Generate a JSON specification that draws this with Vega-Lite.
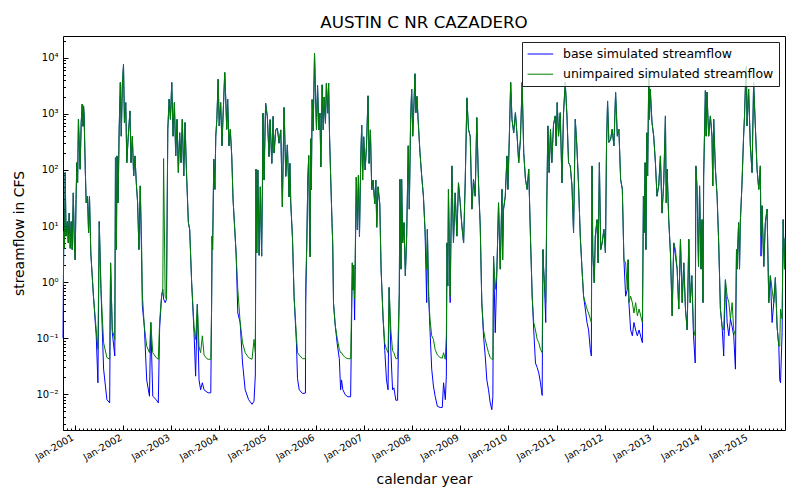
{
  "$schema": "https://vega.github.io/schema/vega-lite/v6.json",
  "width": 722,
  "height": 394,
  "autosize": {"type": "none"},
  "padding": {"left": 63, "top": 36, "right": 15, "bottom": 70},
  "background": "white",
  "title": {"text": "AUSTIN C NR CAZADERO", "fontSize": 16.7, "font": "DejaVu Sans", "fontWeight": "normal", "color": "black", "anchor": "middle", "offset": 4},
  "config": {
    "view": {"stroke": "black", "strokeWidth": 1},
    "axis": {"grid": false, "domain": false, "labelColor": "black", "tickColor": "black", "titleColor": "black", "labelFont": "DejaVu Sans", "titleFont": "DejaVu Sans", "titleFontWeight": "normal"},
    "legend": {"labelFont": "DejaVu Sans"}
  },
  "data": {"values": [
    {"date":"2000-10-01","base":0.1,"unimpaired":0.9},
    {"date":"2000-10-04","base":0.8,"unimpaired":0.9},
    {"date":"2000-10-07","base":8,"unimpaired":8},
    {"date":"2000-10-12","base":4,"unimpaired":4},
    {"date":"2000-10-18","base":90,"unimpaired":90},
    {"date":"2000-10-24","base":6.6,"unimpaired":6.6},
    {"date":"2000-11-03","base":12,"unimpaired":12},
    {"date":"2000-11-10","base":5,"unimpaired":5},
    {"date":"2000-11-17","base":17,"unimpaired":17},
    {"date":"2000-11-25","base":4,"unimpaired":4},
    {"date":"2000-12-02","base":12,"unimpaired":12},
    {"date":"2000-12-10","base":3.8,"unimpaired":3.8},
    {"date":"2000-12-18","base":39,"unimpaired":39},
    {"date":"2000-12-26","base":5,"unimpaired":5},
    {"date":"2001-01-01","base":2.5,"unimpaired":2.5},
    {"date":"2001-01-08","base":30,"unimpaired":30},
    {"date":"2001-01-14","base":135,"unimpaired":135},
    {"date":"2001-01-20","base":60,"unimpaired":60},
    {"date":"2001-01-26","base":800,"unimpaired":800},
    {"date":"2001-02-02","base":250,"unimpaired":250},
    {"date":"2001-02-08","base":103,"unimpaired":103},
    {"date":"2001-02-16","base":700,"unimpaired":700},
    {"date":"2001-02-24","base":1500,"unimpaired":1500},
    {"date":"2001-03-02","base":600,"unimpaired":600},
    {"date":"2001-03-06","base":1390,"unimpaired":1390},
    {"date":"2001-03-10","base":1000,"unimpaired":1000},
    {"date":"2001-03-19","base":103,"unimpaired":103},
    {"date":"2001-03-26","base":26,"unimpaired":26},
    {"date":"2001-04-05","base":34,"unimpaired":34},
    {"date":"2001-04-13","base":7.6,"unimpaired":7.6},
    {"date":"2001-04-20","base":34,"unimpaired":34},
    {"date":"2001-04-30","base":3.3,"unimpaired":3.3},
    {"date":"2001-05-20","base":0.56,"unimpaired":0.56},
    {"date":"2001-06-10","base":0.11,"unimpaired":0.14},
    {"date":"2001-06-23","base":0.016,"unimpaired":0.063},
    {"date":"2001-07-03","base":12,"unimpaired":12},
    {"date":"2001-07-16","base":0.74,"unimpaired":0.74},
    {"date":"2001-08-05","base":0.028,"unimpaired":0.083},
    {"date":"2001-08-30","base":0.008,"unimpaired":0.045},
    {"date":"2001-09-20","base":0.007,"unimpaired":0.042},
    {"date":"2001-09-27","base":2.2,"unimpaired":2.2},
    {"date":"2001-10-10","base":0.125,"unimpaired":0.14},
    {"date":"2001-10-29","base":0.048,"unimpaired":0.095},
    {"date":"2001-11-03","base":165,"unimpaired":165},
    {"date":"2001-11-10","base":3.8,"unimpaired":3.8},
    {"date":"2001-11-15","base":178,"unimpaired":178},
    {"date":"2001-11-23","base":26,"unimpaired":26},
    {"date":"2001-12-01","base":530,"unimpaired":530},
    {"date":"2001-12-10","base":3630,"unimpaired":3630},
    {"date":"2001-12-17","base":400,"unimpaired":400},
    {"date":"2001-12-25","base":3200,"unimpaired":3200},
    {"date":"2002-01-03","base":7700,"unimpaired":7700},
    {"date":"2002-01-10","base":700,"unimpaired":700},
    {"date":"2002-01-20","base":1590,"unimpaired":1590},
    {"date":"2002-01-28","base":135,"unimpaired":135},
    {"date":"2002-02-08","base":400,"unimpaired":400},
    {"date":"2002-02-21","base":1130,"unimpaired":1130},
    {"date":"2002-03-01","base":135,"unimpaired":135},
    {"date":"2002-03-11","base":400,"unimpaired":400},
    {"date":"2002-03-21","base":78,"unimpaired":78},
    {"date":"2002-03-31","base":178,"unimpaired":178},
    {"date":"2002-04-10","base":59,"unimpaired":59},
    {"date":"2002-04-20","base":26,"unimpaired":26},
    {"date":"2002-04-30","base":3.8,"unimpaired":3.8},
    {"date":"2002-05-10","base":52,"unimpaired":52},
    {"date":"2002-05-20","base":2.9,"unimpaired":5},
    {"date":"2002-05-26","base":0.38,"unimpaired":0.6},
    {"date":"2002-06-10","base":0.16,"unimpaired":0.16},
    {"date":"2002-06-28","base":0.018,"unimpaired":0.072},
    {"date":"2002-07-19","base":0.0092,"unimpaired":0.055},
    {"date":"2002-07-29","base":0.19,"unimpaired":0.19},
    {"date":"2002-08-13","base":0.0092,"unimpaired":0.055},
    {"date":"2002-09-08","base":0.008,"unimpaired":0.045},
    {"date":"2002-09-24","base":0.007,"unimpaired":0.042},
    {"date":"2002-10-04","base":0.15,"unimpaired":0.2},
    {"date":"2002-10-19","base":0.56,"unimpaired":0.56},
    {"date":"2002-10-28","base":0.74,"unimpaired":0.74},
    {"date":"2002-11-03","base":0.5,"unimpaired":160},
    {"date":"2002-11-15","base":0.43,"unimpaired":0.56},
    {"date":"2002-11-25","base":0.49,"unimpaired":0.49},
    {"date":"2002-12-05","base":530,"unimpaired":530},
    {"date":"2002-12-15","base":1830,"unimpaired":1830},
    {"date":"2002-12-25","base":800,"unimpaired":800},
    {"date":"2003-01-04","base":3630,"unimpaired":3630},
    {"date":"2003-01-14","base":400,"unimpaired":400},
    {"date":"2003-01-24","base":1590,"unimpaired":1590},
    {"date":"2003-02-03","base":178,"unimpaired":178},
    {"date":"2003-02-13","base":800,"unimpaired":800},
    {"date":"2003-02-23","base":90,"unimpaired":90},
    {"date":"2003-03-05","base":460,"unimpaired":460},
    {"date":"2003-03-15","base":135,"unimpaired":135},
    {"date":"2003-03-25","base":800,"unimpaired":800},
    {"date":"2003-04-05","base":78,"unimpaired":78},
    {"date":"2003-04-15","base":700,"unimpaired":700},
    {"date":"2003-04-25","base":103,"unimpaired":103},
    {"date":"2003-05-10","base":11.5,"unimpaired":11.5},
    {"date":"2003-05-20","base":8.7,"unimpaired":8.7},
    {"date":"2003-06-04","base":0.97,"unimpaired":0.97},
    {"date":"2003-06-22","base":0.125,"unimpaired":0.16},
    {"date":"2003-07-04","base":0.021,"unimpaired":0.095},
    {"date":"2003-07-17","base":0.4,"unimpaired":0.4},
    {"date":"2003-07-30","base":0.018,"unimpaired":0.07},
    {"date":"2003-08-11","base":0.012,"unimpaired":0.055},
    {"date":"2003-08-24","base":0.016,"unimpaired":0.11},
    {"date":"2003-09-06","base":0.012,"unimpaired":0.05},
    {"date":"2003-09-27","base":0.011,"unimpaired":0.043},
    {"date":"2003-10-07","base":0.0106,"unimpaired":0.042},
    {"date":"2003-10-27","base":0.0106,"unimpaired":0.042},
    {"date":"2003-11-02","base":0.33,"unimpaired":0.33},
    {"date":"2003-11-06","base":6.6,"unimpaired":6.6},
    {"date":"2003-11-10","base":3.8,"unimpaired":3.8},
    {"date":"2003-11-19","base":155,"unimpaired":155},
    {"date":"2003-11-27","base":45,"unimpaired":45},
    {"date":"2003-12-04","base":400,"unimpaired":400},
    {"date":"2003-12-12","base":800,"unimpaired":800},
    {"date":"2003-12-22","base":4160,"unimpaired":4160},
    {"date":"2003-12-30","base":610,"unimpaired":610},
    {"date":"2004-01-10","base":1590,"unimpaired":1590},
    {"date":"2004-01-20","base":270,"unimpaired":270},
    {"date":"2004-01-30","base":1200,"unimpaired":1200},
    {"date":"2004-02-10","base":5470,"unimpaired":5470},
    {"date":"2004-02-17","base":2050,"unimpaired":2050},
    {"date":"2004-02-25","base":530,"unimpaired":530},
    {"date":"2004-03-03","base":1830,"unimpaired":1830},
    {"date":"2004-03-13","base":270,"unimpaired":270},
    {"date":"2004-03-23","base":530,"unimpaired":530},
    {"date":"2004-04-03","base":178,"unimpaired":178},
    {"date":"2004-04-13","base":30,"unimpaired":30},
    {"date":"2004-04-23","base":11.5,"unimpaired":11.5},
    {"date":"2004-05-06","base":3.3,"unimpaired":3.3},
    {"date":"2004-05-19","base":0.28,"unimpaired":0.74},
    {"date":"2004-06-06","base":0.19,"unimpaired":0.19},
    {"date":"2004-06-24","base":0.036,"unimpaired":0.083},
    {"date":"2004-07-14","base":0.012,"unimpaired":0.055},
    {"date":"2004-08-09","base":0.008,"unimpaired":0.045},
    {"date":"2004-09-04","base":0.0066,"unimpaired":0.042},
    {"date":"2004-09-19","base":0.0075,"unimpaired":0.095},
    {"date":"2004-09-29","base":0.022,"unimpaired":0.055},
    {"date":"2004-10-04","base":103,"unimpaired":103},
    {"date":"2004-10-10","base":3.3,"unimpaired":3.3},
    {"date":"2004-10-18","base":100,"unimpaired":100},
    {"date":"2004-10-28","base":3,"unimpaired":3},
    {"date":"2004-11-06","base":50,"unimpaired":50},
    {"date":"2004-11-16","base":2.9,"unimpaired":2.9},
    {"date":"2004-11-22","base":60,"unimpaired":60},
    {"date":"2004-11-26","base":1030,"unimpaired":1030},
    {"date":"2004-12-04","base":66,"unimpaired":66},
    {"date":"2004-12-16","base":1550,"unimpaired":1550},
    {"date":"2004-12-29","base":900,"unimpaired":900},
    {"date":"2005-01-11","base":173,"unimpaired":173},
    {"date":"2005-01-19","base":790,"unimpaired":790},
    {"date":"2005-02-01","base":131,"unimpaired":131},
    {"date":"2005-02-11","base":900,"unimpaired":900},
    {"date":"2005-02-18","base":200,"unimpaired":200},
    {"date":"2005-03-03","base":518,"unimpaired":518},
    {"date":"2005-03-15","base":560,"unimpaired":560},
    {"date":"2005-03-28","base":300,"unimpaired":300},
    {"date":"2005-04-10","base":518,"unimpaired":518},
    {"date":"2005-04-22","base":22,"unimpaired":22},
    {"date":"2005-05-05","base":1300,"unimpaired":1300},
    {"date":"2005-05-18","base":77,"unimpaired":77},
    {"date":"2005-05-30","base":280,"unimpaired":280},
    {"date":"2005-06-12","base":33,"unimpaired":33},
    {"date":"2005-06-18","base":131,"unimpaired":131},
    {"date":"2005-06-25","base":25,"unimpaired":25},
    {"date":"2005-07-08","base":6,"unimpaired":6},
    {"date":"2005-07-20","base":0.55,"unimpaired":0.55},
    {"date":"2005-08-07","base":0.08,"unimpaired":0.106},
    {"date":"2005-08-15","base":0.019,"unimpaired":0.055},
    {"date":"2005-08-28","base":0.012,"unimpaired":0.05},
    {"date":"2005-09-22","base":0.0103,"unimpaired":0.043},
    {"date":"2005-10-14","base":0.0105,"unimpaired":0.043},
    {"date":"2005-10-16","base":0.4,"unimpaired":0.9},
    {"date":"2005-10-24","base":4.3,"unimpaired":4.3},
    {"date":"2005-11-01","base":66,"unimpaired":66},
    {"date":"2005-11-08","base":180,"unimpaired":180},
    {"date":"2005-11-15","base":6,"unimpaired":6},
    {"date":"2005-11-19","base":2.8,"unimpaired":2.8},
    {"date":"2005-11-23","base":360,"unimpaired":360},
    {"date":"2005-11-28","base":44,"unimpaired":44},
    {"date":"2005-12-04","base":1800,"unimpaired":1800},
    {"date":"2005-12-12","base":500,"unimpaired":500},
    {"date":"2005-12-22","base":12100,"unimpaired":12100},
    {"date":"2005-12-30","base":2000,"unimpaired":2000},
    {"date":"2006-01-06","base":520,"unimpaired":520},
    {"date":"2006-01-14","base":3200,"unimpaired":3200},
    {"date":"2006-01-24","base":520,"unimpaired":520},
    {"date":"2006-02-01","base":1030,"unimpaired":1030},
    {"date":"2006-02-08","base":113,"unimpaired":113},
    {"date":"2006-02-18","base":3300,"unimpaired":3300},
    {"date":"2006-02-26","base":520,"unimpaired":520},
    {"date":"2006-03-05","base":2000,"unimpaired":2000},
    {"date":"2006-03-15","base":680,"unimpaired":680},
    {"date":"2006-03-22","base":3500,"unimpaired":3500},
    {"date":"2006-04-01","base":1030,"unimpaired":1030},
    {"date":"2006-04-08","base":3500,"unimpaired":3500},
    {"date":"2006-04-15","base":400,"unimpaired":400},
    {"date":"2006-04-22","base":100,"unimpaired":100},
    {"date":"2006-05-04","base":11,"unimpaired":11},
    {"date":"2006-05-09","base":5,"unimpaired":5},
    {"date":"2006-05-15","base":0.42,"unimpaired":0.42},
    {"date":"2006-05-28","base":0.17,"unimpaired":0.17},
    {"date":"2006-06-12","base":0.08,"unimpaired":0.1},
    {"date":"2006-06-28","base":0.043,"unimpaired":0.063},
    {"date":"2006-07-08","base":0.012,"unimpaired":0.055},
    {"date":"2006-07-15","base":0.018,"unimpaired":0.055},
    {"date":"2006-07-25","base":0.012,"unimpaired":0.05},
    {"date":"2006-08-12","base":0.0098,"unimpaired":0.045},
    {"date":"2006-09-01","base":0.009,"unimpaired":0.043},
    {"date":"2006-09-22","base":0.009,"unimpaired":0.043},
    {"date":"2006-10-05","base":2.2,"unimpaired":2.2},
    {"date":"2006-10-09","base":0.72,"unimpaired":0.72},
    {"date":"2006-10-15","base":2,"unimpaired":2},
    {"date":"2006-10-22","base":0.21,"unimpaired":0.5},
    {"date":"2006-11-04","base":74,"unimpaired":74},
    {"date":"2006-11-12","base":8.5,"unimpaired":8.5},
    {"date":"2006-11-20","base":80,"unimpaired":80},
    {"date":"2006-11-28","base":6.5,"unimpaired":6.5},
    {"date":"2006-12-08","base":173,"unimpaired":173},
    {"date":"2006-12-15","base":630,"unimpaired":630},
    {"date":"2006-12-22","base":66,"unimpaired":66},
    {"date":"2006-12-30","base":390,"unimpaired":390},
    {"date":"2007-01-10","base":100,"unimpaired":100},
    {"date":"2007-01-20","base":261,"unimpaired":261},
    {"date":"2007-02-01","base":2100,"unimpaired":2100},
    {"date":"2007-02-09","base":131,"unimpaired":131},
    {"date":"2007-02-19","base":518,"unimpaired":518},
    {"date":"2007-03-01","base":44,"unimpaired":44},
    {"date":"2007-03-11","base":66,"unimpaired":66},
    {"date":"2007-03-24","base":25,"unimpaired":25},
    {"date":"2007-04-01","base":66,"unimpaired":66},
    {"date":"2007-04-08","base":9.5,"unimpaired":9.5},
    {"date":"2007-04-18","base":50,"unimpaired":50},
    {"date":"2007-05-01","base":25,"unimpaired":25},
    {"date":"2007-05-11","base":1.7,"unimpaired":1.7},
    {"date":"2007-05-26","base":0.23,"unimpaired":0.23},
    {"date":"2007-06-08","base":0.06,"unimpaired":0.08},
    {"date":"2007-06-21","base":0.018,"unimpaired":0.063},
    {"date":"2007-07-03","base":0.012,"unimpaired":0.055},
    {"date":"2007-07-11","base":0.8,"unimpaired":0.8},
    {"date":"2007-07-24","base":0.061,"unimpaired":0.14},
    {"date":"2007-08-06","base":0.012,"unimpaired":0.06},
    {"date":"2007-08-16","base":0.013,"unimpaired":0.055},
    {"date":"2007-08-31","base":0.0078,"unimpaired":0.043},
    {"date":"2007-09-13","base":0.0078,"unimpaired":0.043},
    {"date":"2007-09-26","base":0.65,"unimpaired":0.65},
    {"date":"2007-10-01","base":68,"unimpaired":68},
    {"date":"2007-10-09","base":1.7,"unimpaired":1.7},
    {"date":"2007-10-14","base":68,"unimpaired":68},
    {"date":"2007-10-22","base":5,"unimpaired":5},
    {"date":"2007-11-01","base":11.5,"unimpaired":11.5},
    {"date":"2007-11-11","base":1.3,"unimpaired":1.3},
    {"date":"2007-11-21","base":6.6,"unimpaired":6.6},
    {"date":"2007-12-03","base":270,"unimpaired":270},
    {"date":"2007-12-11","base":20,"unimpaired":20},
    {"date":"2007-12-21","base":800,"unimpaired":800},
    {"date":"2007-12-29","base":2760,"unimpaired":2760},
    {"date":"2008-01-06","base":400,"unimpaired":400},
    {"date":"2008-01-13","base":1050,"unimpaired":1050},
    {"date":"2008-01-23","base":5200,"unimpaired":5200},
    {"date":"2008-01-30","base":1050,"unimpaired":1050},
    {"date":"2008-02-07","base":2050,"unimpaired":2050},
    {"date":"2008-02-17","base":700,"unimpaired":700},
    {"date":"2008-03-01","base":204,"unimpaired":204},
    {"date":"2008-03-14","base":78,"unimpaired":78},
    {"date":"2008-03-27","base":34,"unimpaired":34},
    {"date":"2008-04-08","base":8.7,"unimpaired":8.7},
    {"date":"2008-04-21","base":0.43,"unimpaired":1.7},
    {"date":"2008-04-26","base":8.7,"unimpaired":8.7},
    {"date":"2008-05-06","base":0.56,"unimpaired":0.56},
    {"date":"2008-05-16","base":0.14,"unimpaired":0.22},
    {"date":"2008-05-29","base":0.028,"unimpaired":0.11},
    {"date":"2008-06-11","base":0.014,"unimpaired":0.095},
    {"date":"2008-06-24","base":0.0092,"unimpaired":0.063},
    {"date":"2008-07-11","base":0.0061,"unimpaired":0.05},
    {"date":"2008-08-01","base":0.0058,"unimpaired":0.045},
    {"date":"2008-08-17","base":0.0058,"unimpaired":0.044},
    {"date":"2008-08-27","base":0.016,"unimpaired":0.055},
    {"date":"2008-09-09","base":0.008,"unimpaired":0.042},
    {"date":"2008-09-17","base":0.021,"unimpaired":0.11},
    {"date":"2008-09-22","base":5,"unimpaired":5},
    {"date":"2008-09-28","base":0.85,"unimpaired":0.85},
    {"date":"2008-10-03","base":45,"unimpaired":45},
    {"date":"2008-10-16","base":0.43,"unimpaired":0.56},
    {"date":"2008-10-22","base":6.6,"unimpaired":6.6},
    {"date":"2008-10-29","base":118,"unimpaired":118},
    {"date":"2008-11-10","base":5,"unimpaired":5},
    {"date":"2008-11-23","base":39,"unimpaired":39},
    {"date":"2008-12-06","base":6.6,"unimpaired":6.6},
    {"date":"2008-12-18","base":59,"unimpaired":59},
    {"date":"2008-12-31","base":26,"unimpaired":26},
    {"date":"2009-01-13","base":10,"unimpaired":10},
    {"date":"2009-01-26","base":5,"unimpaired":5},
    {"date":"2009-02-07","base":59,"unimpaired":59},
    {"date":"2009-02-20","base":1930,"unimpaired":1930},
    {"date":"2009-03-04","base":530,"unimpaired":530},
    {"date":"2009-03-17","base":400,"unimpaired":400},
    {"date":"2009-03-30","base":20,"unimpaired":20},
    {"date":"2009-04-11","base":68,"unimpaired":68},
    {"date":"2009-04-24","base":34,"unimpaired":34},
    {"date":"2009-05-06","base":860,"unimpaired":860},
    {"date":"2009-05-19","base":59,"unimpaired":59},
    {"date":"2009-06-01","base":10,"unimpaired":10},
    {"date":"2009-06-13","base":0.43,"unimpaired":0.43},
    {"date":"2009-06-26","base":0.11,"unimpaired":0.14},
    {"date":"2009-07-09","base":0.048,"unimpaired":0.095},
    {"date":"2009-07-21","base":0.018,"unimpaired":0.072},
    {"date":"2009-08-03","base":0.012,"unimpaired":0.055},
    {"date":"2009-08-16","base":0.007,"unimpaired":0.045},
    {"date":"2009-08-28","base":0.0053,"unimpaired":0.042},
    {"date":"2009-09-05","base":0.0092,"unimpaired":0.042},
    {"date":"2009-09-10","base":2.9,"unimpaired":2.9},
    {"date":"2009-09-23","base":0.125,"unimpaired":0.74},
    {"date":"2009-10-05","base":1.5,"unimpaired":1.5},
    {"date":"2009-10-18","base":26,"unimpaired":26},
    {"date":"2009-10-31","base":1.7,"unimpaired":1.7},
    {"date":"2009-11-13","base":45,"unimpaired":45},
    {"date":"2009-11-18","base":2.5,"unimpaired":2.5},
    {"date":"2009-11-25","base":20,"unimpaired":20},
    {"date":"2009-12-08","base":34,"unimpaired":34},
    {"date":"2009-12-21","base":178,"unimpaired":178},
    {"date":"2009-12-28","base":45,"unimpaired":45},
    {"date":"2010-01-08","base":400,"unimpaired":400},
    {"date":"2010-01-18","base":3630,"unimpaired":3630},
    {"date":"2010-01-28","base":800,"unimpaired":800},
    {"date":"2010-02-10","base":460,"unimpaired":460},
    {"date":"2010-02-23","base":1050,"unimpaired":1050},
    {"date":"2010-03-08","base":400,"unimpaired":400},
    {"date":"2010-03-20","base":135,"unimpaired":135},
    {"date":"2010-04-02","base":350,"unimpaired":350},
    {"date":"2010-04-15","base":3630,"unimpaired":3630},
    {"date":"2010-04-27","base":204,"unimpaired":204},
    {"date":"2010-05-10","base":68,"unimpaired":68},
    {"date":"2010-05-23","base":45,"unimpaired":45},
    {"date":"2010-06-04","base":103,"unimpaired":103},
    {"date":"2010-06-17","base":6.6,"unimpaired":6.6},
    {"date":"2010-06-30","base":0.56,"unimpaired":0.56},
    {"date":"2010-07-12","base":0.14,"unimpaired":0.19},
    {"date":"2010-07-25","base":0.036,"unimpaired":0.14},
    {"date":"2010-08-07","base":0.03,"unimpaired":0.095},
    {"date":"2010-08-19","base":0.024,"unimpaired":0.083},
    {"date":"2010-09-01","base":0.016,"unimpaired":0.063},
    {"date":"2010-09-14","base":0.0095,"unimpaired":0.055},
    {"date":"2010-09-20","base":3.8,"unimpaired":3.8},
    {"date":"2010-09-25","base":1.7,"unimpaired":1.7},
    {"date":"2010-10-01","base":0.97,"unimpaired":0.97},
    {"date":"2010-10-11","base":0.19,"unimpaired":0.43},
    {"date":"2010-10-19","base":26,"unimpaired":26},
    {"date":"2010-10-27","base":610,"unimpaired":610},
    {"date":"2010-11-06","base":90,"unimpaired":90},
    {"date":"2010-11-16","base":530,"unimpaired":530},
    {"date":"2010-11-26","base":135,"unimpaired":135},
    {"date":"2010-12-09","base":650,"unimpaired":650},
    {"date":"2010-12-22","base":920,"unimpaired":920},
    {"date":"2010-12-29","base":270,"unimpaired":270},
    {"date":"2011-01-06","base":1590,"unimpaired":1590},
    {"date":"2011-01-16","base":400,"unimpaired":400},
    {"date":"2011-01-29","base":1050,"unimpaired":1050},
    {"date":"2011-02-11","base":59,"unimpaired":59},
    {"date":"2011-02-23","base":1050,"unimpaired":1050},
    {"date":"2011-03-08","base":3630,"unimpaired":3630},
    {"date":"2011-03-21","base":920,"unimpaired":920},
    {"date":"2011-04-02","base":135,"unimpaired":135},
    {"date":"2011-04-15","base":118,"unimpaired":118},
    {"date":"2011-04-28","base":52,"unimpaired":52},
    {"date":"2011-05-10","base":7.6,"unimpaired":7.6},
    {"date":"2011-05-23","base":800,"unimpaired":800},
    {"date":"2011-06-04","base":270,"unimpaired":270},
    {"date":"2011-06-17","base":52,"unimpaired":52},
    {"date":"2011-06-30","base":6.6,"unimpaired":6.6},
    {"date":"2011-07-12","base":1.9,"unimpaired":1.9},
    {"date":"2011-07-25","base":0.56,"unimpaired":0.56},
    {"date":"2011-08-07","base":0.33,"unimpaired":0.43},
    {"date":"2011-08-20","base":0.19,"unimpaired":0.33},
    {"date":"2011-09-01","base":0.14,"unimpaired":0.28},
    {"date":"2011-09-14","base":0.063,"unimpaired":0.22},
    {"date":"2011-09-22","base":0.048,"unimpaired":0.19},
    {"date":"2011-09-27","base":118,"unimpaired":118},
    {"date":"2011-10-03","base":3.3,"unimpaired":3.3},
    {"date":"2011-10-14","base":0.97,"unimpaired":0.97},
    {"date":"2011-10-22","base":6.6,"unimpaired":6.6},
    {"date":"2011-11-04","base":13,"unimpaired":13},
    {"date":"2011-11-12","base":2.2,"unimpaired":2.2},
    {"date":"2011-11-22","base":135,"unimpaired":135},
    {"date":"2011-12-02","base":3.8,"unimpaired":3.8},
    {"date":"2011-12-13","base":5,"unimpaired":5},
    {"date":"2011-12-26","base":8.7,"unimpaired":8.7},
    {"date":"2012-01-07","base":3.3,"unimpaired":3.3},
    {"date":"2012-01-15","base":270,"unimpaired":270},
    {"date":"2012-01-23","base":1700,"unimpaired":1700},
    {"date":"2012-02-02","base":310,"unimpaired":310},
    {"date":"2012-02-15","base":350,"unimpaired":350},
    {"date":"2012-02-27","base":530,"unimpaired":530},
    {"date":"2012-03-11","base":270,"unimpaired":270},
    {"date":"2012-03-24","base":2400,"unimpaired":2400},
    {"date":"2012-04-06","base":400,"unimpaired":400},
    {"date":"2012-04-18","base":530,"unimpaired":530},
    {"date":"2012-05-01","base":68,"unimpaired":68},
    {"date":"2012-05-14","base":45,"unimpaired":45},
    {"date":"2012-05-26","base":2.5,"unimpaired":2.5},
    {"date":"2012-06-08","base":0.56,"unimpaired":2.2},
    {"date":"2012-06-21","base":0.74,"unimpaired":0.74},
    {"date":"2012-06-27","base":2.5,"unimpaired":2.5},
    {"date":"2012-07-03","base":0.43,"unimpaired":0.43},
    {"date":"2012-07-16","base":0.14,"unimpaired":0.56},
    {"date":"2012-07-29","base":0.11,"unimpaired":0.43},
    {"date":"2012-08-10","base":0.19,"unimpaired":0.28},
    {"date":"2012-08-23","base":0.14,"unimpaired":0.43},
    {"date":"2012-09-05","base":0.11,"unimpaired":0.25},
    {"date":"2012-09-18","base":0.14,"unimpaired":0.33},
    {"date":"2012-10-13","base":0.083,"unimpaired":0.19},
    {"date":"2012-10-21","base":34,"unimpaired":34},
    {"date":"2012-10-26","base":7.6,"unimpaired":7.6},
    {"date":"2012-11-03","base":135,"unimpaired":135},
    {"date":"2012-11-09","base":3.8,"unimpaired":3.8},
    {"date":"2012-11-16","base":460,"unimpaired":460},
    {"date":"2012-11-22","base":78,"unimpaired":78},
    {"date":"2012-12-01","base":6000,"unimpaired":6000},
    {"date":"2012-12-06","base":800,"unimpaired":800},
    {"date":"2012-12-12","base":2760,"unimpaired":2760},
    {"date":"2012-12-25","base":700,"unimpaired":700},
    {"date":"2013-01-07","base":400,"unimpaired":400},
    {"date":"2013-01-20","base":135,"unimpaired":135},
    {"date":"2013-02-01","base":34,"unimpaired":34},
    {"date":"2013-02-14","base":52,"unimpaired":52},
    {"date":"2013-02-27","base":178,"unimpaired":178},
    {"date":"2013-03-11","base":17,"unimpaired":17},
    {"date":"2013-03-24","base":59,"unimpaired":59},
    {"date":"2013-04-06","base":920,"unimpaired":920},
    {"date":"2013-04-12","base":26,"unimpaired":26},
    {"date":"2013-04-19","base":103,"unimpaired":103},
    {"date":"2013-05-01","base":13,"unimpaired":13},
    {"date":"2013-05-14","base":3.3,"unimpaired":3.3},
    {"date":"2013-05-27","base":0.25,"unimpaired":0.25},
    {"date":"2013-06-08","base":5,"unimpaired":5},
    {"date":"2013-06-21","base":2.9,"unimpaired":3.8},
    {"date":"2013-07-04","base":1.7,"unimpaired":1.7},
    {"date":"2013-07-16","base":0.33,"unimpaired":0.33},
    {"date":"2013-07-29","base":5.8,"unimpaired":5.8},
    {"date":"2013-08-11","base":0.43,"unimpaired":0.43},
    {"date":"2013-08-23","base":2.2,"unimpaired":2.2},
    {"date":"2013-09-05","base":0.33,"unimpaired":0.33},
    {"date":"2013-09-18","base":0.14,"unimpaired":0.14},
    {"date":"2013-09-30","base":5.8,"unimpaired":5.8},
    {"date":"2013-10-11","base":0.43,"unimpaired":0.43},
    {"date":"2013-10-23","base":1.3,"unimpaired":1.3},
    {"date":"2013-11-05","base":0.11,"unimpaired":0.14},
    {"date":"2013-11-18","base":0.036,"unimpaired":0.11},
    {"date":"2013-11-23","base":118,"unimpaired":118},
    {"date":"2013-12-01","base":52,"unimpaired":52},
    {"date":"2013-12-13","base":1.9,"unimpaired":1.9},
    {"date":"2013-12-21","base":52,"unimpaired":52},
    {"date":"2014-01-01","base":1.7,"unimpaired":1.7},
    {"date":"2014-01-09","base":13,"unimpaired":13},
    {"date":"2014-01-16","base":0.43,"unimpaired":0.43},
    {"date":"2014-01-21","base":78,"unimpaired":78},
    {"date":"2014-02-03","base":2600,"unimpaired":2600},
    {"date":"2014-02-09","base":400,"unimpaired":400},
    {"date":"2014-02-15","base":2450,"unimpaired":2450},
    {"date":"2014-02-28","base":400,"unimpaired":400},
    {"date":"2014-03-13","base":920,"unimpaired":920},
    {"date":"2014-03-25","base":400,"unimpaired":400},
    {"date":"2014-03-31","base":52,"unimpaired":52},
    {"date":"2014-04-07","base":800,"unimpaired":800},
    {"date":"2014-04-20","base":103,"unimpaired":103},
    {"date":"2014-05-03","base":34,"unimpaired":34},
    {"date":"2014-05-15","base":5,"unimpaired":5},
    {"date":"2014-05-28","base":0.33,"unimpaired":0.33},
    {"date":"2014-06-10","base":0.16,"unimpaired":0.16},
    {"date":"2014-06-22","base":0.048,"unimpaired":0.14},
    {"date":"2014-07-05","base":1.1,"unimpaired":1.1},
    {"date":"2014-07-18","base":0.19,"unimpaired":0.56},
    {"date":"2014-07-31","base":0.11,"unimpaired":0.43},
    {"date":"2014-08-12","base":0.22,"unimpaired":0.22},
    {"date":"2014-08-25","base":0.16,"unimpaired":0.43},
    {"date":"2014-09-06","base":0.11,"unimpaired":0.14},
    {"date":"2014-09-19","base":0.028,"unimpaired":0.11},
    {"date":"2014-09-27","base":3.8,"unimpaired":3.8},
    {"date":"2014-10-01","base":1.7,"unimpaired":1.7},
    {"date":"2014-10-13","base":11.5,"unimpaired":11.5},
    {"date":"2014-10-20","base":1.7,"unimpaired":1.7},
    {"date":"2014-10-26","base":11.5,"unimpaired":11.5},
    {"date":"2014-11-07","base":52,"unimpaired":52},
    {"date":"2014-11-20","base":400,"unimpaired":400},
    {"date":"2014-11-27","base":920,"unimpaired":920},
    {"date":"2014-12-03","base":2760,"unimpaired":2760},
    {"date":"2014-12-11","base":7000,"unimpaired":7000},
    {"date":"2014-12-16","base":610,"unimpaired":610},
    {"date":"2014-12-28","base":2760,"unimpaired":2760},
    {"date":"2015-01-10","base":270,"unimpaired":270},
    {"date":"2015-01-23","base":90,"unimpaired":90},
    {"date":"2015-02-04","base":3630,"unimpaired":3630},
    {"date":"2015-02-17","base":610,"unimpaired":610},
    {"date":"2015-03-02","base":103,"unimpaired":103},
    {"date":"2015-03-15","base":45,"unimpaired":45},
    {"date":"2015-03-27","base":118,"unimpaired":118},
    {"date":"2015-04-01","base":2.9,"unimpaired":6.6},
    {"date":"2015-04-09","base":23,"unimpaired":23},
    {"date":"2015-04-22","base":1.9,"unimpaired":1.9},
    {"date":"2015-05-04","base":11.5,"unimpaired":11.5},
    {"date":"2015-05-17","base":20,"unimpaired":20},
    {"date":"2015-05-30","base":0.43,"unimpaired":0.43},
    {"date":"2015-06-11","base":1.3,"unimpaired":1.3},
    {"date":"2015-06-24","base":0.19,"unimpaired":0.74},
    {"date":"2015-07-07","base":0.43,"unimpaired":0.43},
    {"date":"2015-07-19","base":1.2,"unimpaired":1.2},
    {"date":"2015-08-01","base":0.16,"unimpaired":0.16},
    {"date":"2015-08-14","base":0.072,"unimpaired":0.072},
    {"date":"2015-08-21","base":0.018,"unimpaired":0.072},
    {"date":"2015-08-27","base":0.016,"unimpaired":0.33},
    {"date":"2015-09-08","base":0.125,"unimpaired":0.22},
    {"date":"2015-09-16","base":13,"unimpaired":13},
    {"date":"2015-09-26","base":1.7,"unimpaired":1.7},
    {"date":"2015-09-30","base":6,"unimpaired":6}
  ]},
  "layer": [
    {
      "mark": {"type": "line", "strokeWidth": 1, "interpolate": "linear"},
      "encoding": {
        "x": {"field": "date", "type": "temporal",
          "scale": {"domain": [{"year": 2000, "month": 10, "date": 1}, {"year": 2015, "month": 9, "date": 30}]},
          "axis": {"orient": "bottom", "tickCount": {"interval": "month", "step": 1}, "labels": false, "tickSize": -2, "title": null}},
        "y": {"field": "base", "type": "quantitative",
          "scale": {"type": "log", "domain": [0.0023, 24500], "nice": false},
          "axis": {"orient": "left", "labels": false, "tickSize": -2.5, "title": null,
            "values": [0.003,0.004,0.005,0.006,0.007,0.008,0.009,0.02,0.03,0.04,0.05,0.06,0.07,0.08,0.09,0.2,0.3,0.4,0.5,0.6,0.7,0.8,0.9,2,3,4,5,6,7,8,9,20,30,40,50,60,70,80,90,200,300,400,500,600,700,800,900,2000,3000,4000,5000,6000,7000,8000,9000,20000]}},
        "color": {"datum": "base simulated streamflow", "type": "nominal",
          "scale": {"domain": ["base simulated streamflow", "unimpaired simulated streamflow"], "range": ["#0000ff", "#008000"]},
          "legend": {"title": null, "orient": "top-right", "offset": 6, "symbolType": "M-1,0L3,0", "symbolSize": 164, "symbolStrokeWidth": 1, "labelFontSize": 12.5, "labelColor": "black", "labelOffset": 22, "rowPadding": 6.2, "padding": 5, "strokeColor": "#222222", "fillColor": "rgba(255,255,255,0.8)", "cornerRadius": 0, "labelLimit": 400}}
      }
    },
    {
      "mark": {"type": "line", "strokeWidth": 1, "interpolate": "linear"},
      "encoding": {
        "x": {"field": "date", "type": "temporal",
          "axis": {"orient": "bottom", "tickCount": {"interval": "year", "step": 1}, "format": "%b-%Y", "labelAngle": -30, "labelAlign": "right", "labelBaseline": "top", "labelFontSize": 9.6, "tickSize": -5, "labelPadding": 7, "labelOffset": -5, "labelOverlap": false, "title": "calendar year", "titleFontSize": 13.9, "titlePadding": 11}},
        "y": {"field": "unimpaired", "type": "quantitative",
          "axis": {"orient": "left", "values": [0.01, 0.1, 1, 10, 100, 1000, 10000], "tickSize": -5, "labelPadding": 10, "labelFontSize": 10,
            "labelExpr": "datum.value < 0.05 ? '10⁻²' : datum.value < 0.5 ? '10⁻¹' : datum.value < 5 ? '10⁰' : datum.value < 50 ? '10¹' : datum.value < 500 ? '10²' : datum.value < 5000 ? '10³' : '10⁴'",
            "title": "streamflow in CFS", "titleFontSize": 13.9, "titlePadding": 9}},
        "color": {"datum": "unimpaired simulated streamflow", "type": "nominal"}
      }
    }
  ],
  "resolve": {"axis": {"x": "independent", "y": "independent"}}
}
